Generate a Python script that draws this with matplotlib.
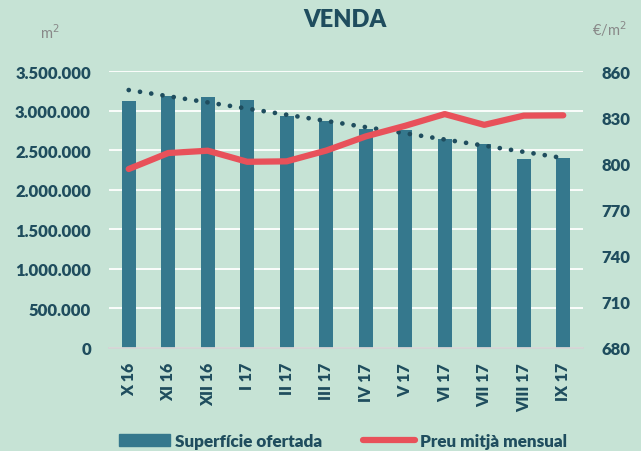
import numpy as np
import matplotlib
matplotlib.use('Agg')
import matplotlib.pyplot as plt
from matplotlib.ticker import FuncFormatter
from matplotlib.patches import Patch
from matplotlib.lines import Line2D

months = ['X 16', 'XI 16', 'XII 16', 'I 17', 'II 17', 'III 17',
          'IV 17', 'V 17', 'VI 17', 'VII 17', 'VIII 17', 'IX 17']
surface = [3117000, 3190000, 3175000, 3137000, 2935000, 2870000,
           2763000, 2755000, 2645000, 2580000, 2392000, 2400000]
price = [796.3, 806.7, 808.2, 801.0, 801.3, 808.3,
         817.5, 824.4, 832.0, 825.0, 831.0, 831.2]

bg = '#c6e3d5'
bar_col = '#35788d'
red = '#e8515a'
txt = '#1f4d5e'

plt.rcParams['font.family'] = ['Lato', 'DejaVu Sans']

fig = plt.figure(figsize=(6.41, 4.52), dpi=100, facecolor=bg)
ax = fig.add_axes([0.170, 0.2279, 0.7395, 0.6128], facecolor=bg)
x = np.arange(len(months))

ax.bar(x, surface, width=0.36, color=bar_col, zorder=2)
# linear trend of the offered surface
coef = np.polyfit(x, surface, 1)
ax.plot(x, np.polyval(coef, x), color=txt, lw=3.4,
        linestyle=(0, (0.01, 2.4)), dash_capstyle='round', zorder=3)

ax.set_xlim(-0.5, len(months) - 0.5)
ax.set_ylim(0, 3500000)
ax.set_yticks(np.arange(0, 3500001, 500000))
ax.yaxis.set_major_formatter(FuncFormatter(lambda v, p: f'{int(v):,}'.replace(',', '.')))
ax.grid(axis='y', color='white', lw=1.3, zorder=0)
ax.set_axisbelow(True)
for s in ['top', 'right', 'left']:
    ax.spines[s].set_visible(False)
ax.spines['bottom'].set_color('#d4d4d4')
ax.spines['bottom'].set_linewidth(1.3)
ax.set_xticks(x)
ax.set_xticklabels(months, rotation=90, fontsize=11.5, fontweight='heavy', color=txt)
ax.tick_params(axis='x', length=0, pad=10)
ax.tick_params(axis='y', length=0, pad=13, labelsize=12, labelcolor=txt)
for t in ax.get_yticklabels():
    t.set_fontweight('heavy')

ax2 = ax.twinx()
ax2.plot(x, price, color=red, lw=4.5, solid_capstyle='round', zorder=4)
ax2.set_ylim(680, 860)
ax2.set_yticks(np.arange(680, 861, 30))
ax2.tick_params(axis='y', length=0, pad=13, labelsize=12, labelcolor=txt)
for t in ax2.get_yticklabels():
    t.set_fontweight('heavy')
for s in ax2.spines.values():
    s.set_visible(False)

fig.text(0.538, 0.955, 'VENDA', ha='center', va='center', fontsize=17,
         fontweight='heavy', color=txt)
fig.text(0.078, 0.928, 'm$^2$', ha='center', va='center', fontsize=10.5, color='#888888')
fig.text(0.95, 0.935, '€/m$^2$', ha='center', va='center', fontsize=10.5, color='#888888')

handles = [Patch(color=bar_col, label='Superfície ofertada'),
           Line2D([0], [0], color=red, lw=4.5, solid_capstyle='round', label='Preu mitjà mensual')]
leg = fig.legend(handles=handles, loc='center', bbox_to_anchor=(0.535, 0.022), ncol=2,
                 frameon=False, fontsize=12.3, handlelength=3.0, handleheight=0.75,
                 columnspacing=2.4, handletextpad=0.3)
for t in leg.get_texts():
    t.set_fontweight('heavy')
    t.set_color(txt)

fig.savefig('out.png', dpi=100, facecolor=bg)
